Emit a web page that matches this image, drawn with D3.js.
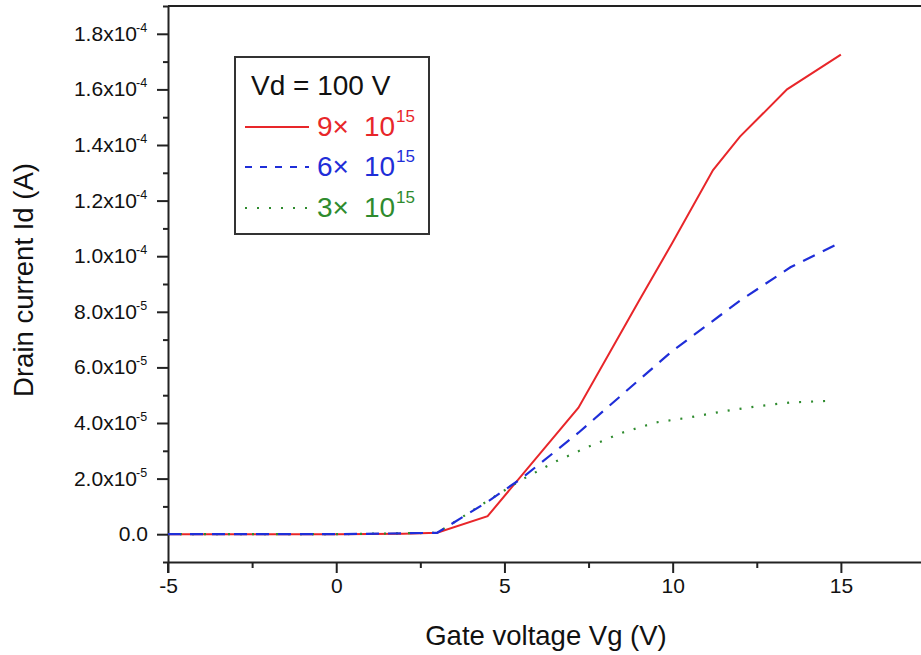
<!DOCTYPE html>
<html>
<head>
<meta charset="utf-8">
<script src="https://cdn.jsdelivr.net/npm/d3@7"></script>
<style>
  html, body { margin: 0; padding: 0; background: #fff; }
  svg { display: block; font-family: "Liberation Sans", Arial, sans-serif; }
</style>
</head>
<body>
<svg id="chart" width="921" height="655"></svg>
<script>
// ---------------- data ----------------
const vg9 = [-5, 0, 2, 3, 4.5, 7.2, 9, 10, 11.2, 12, 13.4, 15];
const id9 = [0, 0, 0.2e-6, 0.5e-6, 6.5e-6, 4.55e-5, 8.4e-5, 1.05e-4, 1.31e-4, 1.43e-4, 1.6e-4, 1.725e-4];

const vg6 = [-5, 0, 3, 4.5, 5.5, 7.2, 9, 10, 12, 13.5, 15];
const id6 = [0, 0, 0.5e-6, 1.17e-5, 2.0e-5, 3.65e-5, 5.55e-5, 6.6e-5, 8.4e-5, 9.6e-5, 1.05e-4];

const vg3 = [-5, 0, 3, 3.4, 4.5, 5.5, 6.5, 7.5, 8.5, 9.5, 10.5, 11.5, 12.5, 13.5, 14.7];
const id3 = [0, 0, 0.5e-6, 3.5e-6, 1.2e-5, 1.95e-5, 2.6e-5, 3.15e-5, 3.65e-5, 4.02e-5, 4.2e-5, 4.42e-5, 4.6e-5, 4.74e-5, 4.8e-5];

const seriesNames = ["9\u00D7", "6\u00D7", "3\u00D7"];
const seriesExp = "15";
const legendTitle = "Vd = 100 V";

const xTickValues = [-5, 0, 5, 10, 15];
const xTickLabels = ["-5", "0", "5", "10", "15"];
const xMinorTicks = [-2.5, 2.5, 7.5, 12.5, 17.5];
const yTickValues = [0, 2e-5, 4e-5, 6e-5, 8e-5, 1e-4, 1.2e-4, 1.4e-4, 1.6e-4, 1.8e-4];
const yTickMantissa = ["0.0", "2.0x10", "4.0x10", "6.0x10", "8.0x10", "1.0x10", "1.2x10", "1.4x10", "1.6x10", "1.8x10"];
const yTickExp = ["", "-5", "-5", "-5", "-5", "-4", "-4", "-4", "-4", "-4"];
const yMinorTicks = [-1e-5, 1e-5, 3e-5, 5e-5, 7e-5, 9e-5, 1.1e-4, 1.3e-4, 1.5e-4, 1.7e-4, 1.9e-4];

const xTitle = "Gate voltage Vg (V)";
const yTitle = "Drain current Id (A)";

// ---------------- layout ----------------
const svg = d3.select("#chart");
const pLeft = 168, pRight = 925, pTop = 6, pBottom = 562;
const x = d3.scaleLinear().domain([-5, 17.5]).range([pLeft, pRight]);
const y = d3.scaleLinear().domain([-1e-5, 1.9e-4]).range([pBottom, pTop]);

const axisColor = "#222";
const colors = ["#e8262a", "#1f2ed8", "#2e8b2e"];

svg.append("defs").append("clipPath").attr("id", "clip")
  .append("rect").attr("x", pLeft).attr("y", pTop).attr("width", pRight - pLeft).attr("height", pBottom - pTop);

// top frame
svg.append("line").attr("x1", pLeft).attr("x2", 921).attr("y1", pTop).attr("y2", pTop)
  .attr("stroke", axisColor).attr("stroke-width", 2);

// x axis
const gx = svg.append("g").attr("transform", `translate(0,${pBottom})`)
  .call(d3.axisBottom(x).tickValues(xTickValues).tickSize(11).tickSizeOuter(0)
    .tickFormat((d, i) => xTickLabels[i]));
gx.select(".domain").attr("stroke", axisColor).attr("stroke-width", 2);
gx.selectAll(".tick line").attr("stroke", axisColor).attr("stroke-width", 2);
gx.selectAll(".tick text").attr("font-size", 21).attr("fill", "#111").attr("y", 16).attr("dy", "0.71em")
  .attr("font-family", "'Liberation Sans', Arial, sans-serif");
const gxm = svg.append("g").attr("transform", `translate(0,${pBottom})`)
  .call(d3.axisBottom(x).tickValues(xMinorTicks).tickSize(6).tickSizeOuter(0).tickFormat(""));
gxm.select(".domain").remove();
gxm.selectAll(".tick line").attr("stroke", axisColor).attr("stroke-width", 2);

// y axis
const gy = svg.append("g").attr("transform", `translate(${pLeft},0)`)
  .call(d3.axisLeft(y).tickValues(yTickValues).tickSize(11).tickSizeOuter(0).tickFormat(""));
gy.select(".domain").attr("stroke", axisColor).attr("stroke-width", 2);
gy.selectAll(".tick line").attr("stroke", axisColor).attr("stroke-width", 2);
const gym = svg.append("g").attr("transform", `translate(${pLeft},0)`)
  .call(d3.axisLeft(y).tickValues(yMinorTicks).tickSize(5).tickSizeOuter(0).tickFormat(""));
gym.select(".domain").remove();
gym.selectAll(".tick line").attr("stroke", axisColor).attr("stroke-width", 2);
svg.append("line").attr("x1", pLeft).attr("x2", pLeft).attr("y1", pBottom).attr("y2", pBottom + 11)
  .attr("stroke", axisColor).attr("stroke-width", 2);

// y tick labels with superscripts
yTickValues.forEach((v, i) => {
  svg.append("text")
    .attr("x", yTickExp[i] ? 137 : 148)
    .attr("y", y(v) + 7)
    .attr("text-anchor", "end")
    .attr("font-size", 21)
    .attr("fill", "#111")
    .text(yTickMantissa[i]);
  if (yTickExp[i]) {
    svg.append("text")
      .attr("x", 136)
      .attr("y", y(v) - 2)
      .attr("font-size", 12.5)
      .attr("fill", "#111")
      .text(yTickExp[i]);
  }
});

// titles
svg.append("text").attr("x", 546).attr("y", 645)
  .attr("text-anchor", "middle").attr("font-size", 27.5).attr("fill", "#111").text(xTitle);
svg.append("text").attr("transform", `translate(33,280) rotate(-90)`)
  .attr("text-anchor", "middle").attr("font-size", 27.5).attr("fill", "#111").text(yTitle);

// lines
const line = d3.line().x(d => x(d[0])).y(d => y(d[1]));
const plot = svg.append("g").attr("clip-path", "url(#clip)");
const d9 = vg9.map((v, i) => [v, id9[i]]);
const d6 = vg6.map((v, i) => [v, id6[i]]);
const d3s = vg3.map((v, i) => [v, id3[i]]);

plot.append("path").datum(d9).attr("d", line).attr("fill", "none")
  .attr("stroke", colors[0]).attr("stroke-width", 2);
plot.append("path").datum(d3s).attr("d", line).attr("fill", "none")
  .attr("stroke", colors[2]).attr("stroke-width", 2.2).attr("stroke-dasharray", "2,10");
plot.append("path").datum(d6).attr("d", line).attr("fill", "none")
  .attr("stroke", colors[1]).attr("stroke-width", 2.2).attr("stroke-dasharray", "13,9");

// legend
const lg = svg.append("g");
lg.append("rect").attr("x", 235).attr("y", 57).attr("width", 194).attr("height", 177)
  .attr("fill", "#fff").attr("stroke", "#333").attr("stroke-width", 2);
lg.append("text").attr("x", 251).attr("y", 95).attr("font-size", 28).attr("fill", "#111").text(legendTitle);
const dashes = [null, "7,8", "2,10"];
const rowsY = [127, 167, 208];
seriesNames.forEach((name, i) => {
  const ly = rowsY[i];
  const l = lg.append("line").attr("x1", 245).attr("x2", 309).attr("y1", ly).attr("y2", ly)
    .attr("stroke", colors[i]).attr("stroke-width", 2.2);
  if (dashes[i]) l.attr("stroke-dasharray", dashes[i]);
  lg.append("text").attr("x", 317).attr("y", ly + 9).attr("font-size", 28).attr("fill", colors[i]).text(name);
  lg.append("text").attr("x", 364).attr("y", ly + 9).attr("font-size", 28).attr("fill", colors[i]).text("10");
  lg.append("text").attr("x", 396).attr("y", ly - 5).attr("font-size", 17).attr("fill", colors[i]).text(seriesExp);
});
</script>
</body>
</html>
